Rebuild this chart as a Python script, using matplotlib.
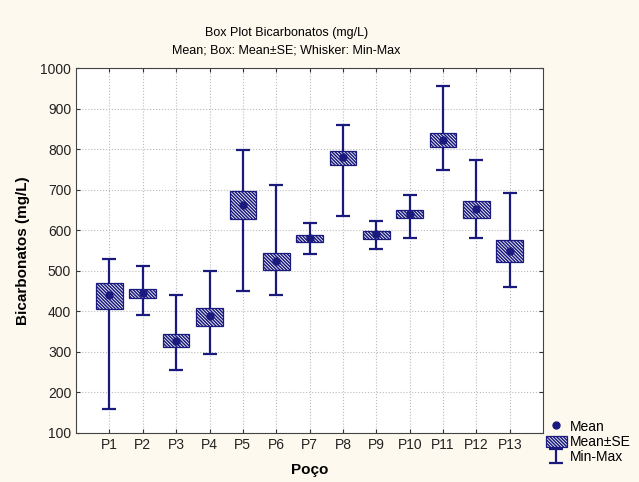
import numpy as np
import matplotlib
matplotlib.use("Agg")
import matplotlib.pyplot as plt
from matplotlib.lines import Line2D
from matplotlib.patches import Patch

plt.rcParams['font.family'] = ['Liberation Sans', 'DejaVu Sans']
plt.rcParams['hatch.linewidth'] = 1.1

# Bicarbonato por poço (mg/L)
pocos = ['P1', 'P2', 'P3', 'P4', 'P5', 'P6', 'P7', 'P8', 'P9', 'P10', 'P11', 'P12', 'P13']
media = [440, 446, 328, 388, 662, 524, 582, 780, 590, 641, 823, 653, 550]
se_inf = [407, 433, 312, 364, 628, 501, 572, 761, 579, 631, 805, 631, 521]
se_sup = [469, 455, 343, 409, 697, 544, 588, 796, 599, 651, 840, 671, 577]
minimo = [158, 391, 255, 296, 451, 441, 541, 636, 554, 581, 749, 580, 461]
maximo = [530, 513, 441, 500, 797, 712, 619, 860, 623, 686, 957, 773, 693]

azul = '#1A1A7E'
hachura = '\\' * 10
pos = np.arange(1, len(pocos) + 1)
media = np.array(media)

fig = plt.figure(figsize=(6.39, 4.82), dpi=100, facecolor='#FDF9EE')
ax = fig.add_axes([0.119, 0.1017, 0.731, 0.757])
ax.set_facecolor('white')

# whiskers min-max behind the boxes
wsk = ax.errorbar(pos, media, yerr=[media - np.array(minimo), np.array(maximo) - media],
                  fmt='none', ecolor=azul, elinewidth=1.6, capsize=5, capthick=1.6, zorder=2)
# box mean +- SE with hatch
ax.bar(pos, np.array(se_sup) - np.array(se_inf), bottom=se_inf, width=0.8,
       color='white', edgecolor=azul, hatch=hachura, linewidth=0.9, zorder=3)
ax.plot(pos, media, 'o', color=azul, markersize=5, zorder=4)

ax.set_xlim(0, 14)
ax.set_ylim(100, 1000)
ax.set_xticks(pos)
ax.set_xticklabels(pocos)
ax.set_yticks(np.arange(100, 1001, 100))
ax.tick_params(direction='in', length=3, labelsize=10, top=True, right=True,
               color='#333333', labelcolor='#222222')
ax.grid(True, linestyle=':', color='#BBBBBB', linewidth=0.8)
ax.set_axisbelow(True)
for s in ax.spines.values():
    s.set_color('#444444')

ax.set_ylabel('Bicarbonatos (mg/L)', fontsize=11, fontweight='bold')
ax.set_xlabel('Poço', fontsize=11, fontweight='bold')
ax.yaxis.set_label_coords(-0.098, 0.5)
ax.xaxis.set_label_coords(0.5, -0.082)

fig.text(0.448, 0.932, 'Box Plot Bicarbonatos (mg/L)', ha='center', va='center', fontsize=9)
fig.text(0.448, 0.896, 'Mean; Box: Mean±SE; Whisker: Min-Max', ha='center', va='center', fontsize=9)

handles = [Line2D([], [], marker='o', color=azul, linestyle='none', markersize=5),
           Patch(facecolor='white', edgecolor=azul, hatch=hachura, linewidth=0.9),
           wsk]
fig.legend(handles, ['Mean', 'Mean±SE', 'Min-Max'], loc='upper left',
           bbox_to_anchor=(0.850, 0.135), frameon=False, fontsize=10,
           handlelength=1.5, handleheight=0.9, handletextpad=0.2,
           labelspacing=0.1, borderpad=0.2, borderaxespad=0)

fig.savefig('out.png', dpi=100, facecolor=fig.get_facecolor())
